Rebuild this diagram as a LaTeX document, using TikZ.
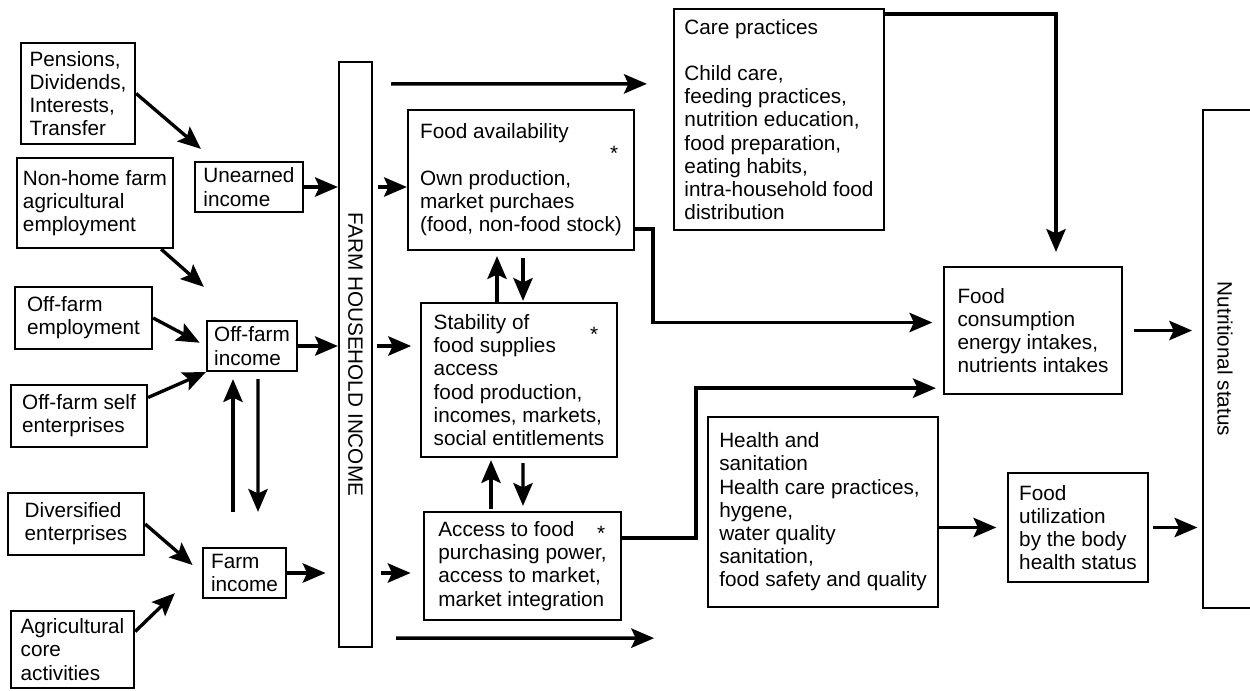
\documentclass[tikz,border=0pt]{standalone}
\usepackage{fontspec}
\setmainfont{Liberation Sans}
\usetikzlibrary{arrows.meta,calc,positioning}
\newcommand{\boxfont}{\fontsize{11.8pt}{13.2pt}\selectfont}
\tikzstyle{block} = [rectangle, draw=black, line width=1.3pt, inner sep=0pt, align=left, font=\boxfont]
\tikzstyle{arrow} = [line width=1.9pt, -{Stealth[length=13pt, width=11pt, inset=2.5pt]}]
\tikzstyle{vtext} = [rotate=-90, font=\boxfont, inner sep=0pt]
\tikzstyle{star} = [font=\boxfont, inner sep=0pt]

\begin{document}
\begin{tikzpicture}[x=0.02cm, y=-0.02cm]
\useasboundingbox (0,0) rectangle (1250,690);

% income sources
\node (pens) [block, minimum width=2.28cm, minimum height=2.02cm] at (78,93.5) {Pensions,\\Dividends,\\Interests,\\Transfer};
\node (unearned) [block, minimum width=2.16cm, minimum height=1cm] at (249,187) {Unearned\\income};
\node (nonhome) [block, minimum width=3.12cm, minimum height=1.8cm] at (95,203) {Non-home farm\\agricultural\\employment};
\node (offemp) [block, minimum width=2.74cm, minimum height=1.24cm] at (83.5,318) {Off-farm\\employment};
\node (offinc) [block, minimum width=1.8cm, minimum height=1cm] at (252,346) {Off-farm\\income};
\node (offself) [block, minimum width=2.72cm, minimum height=1.24cm] at (79,416) {Off-farm self\\enterprises};
\node (div) [block, minimum width=2.72cm, minimum height=1.24cm] at (76,524) {Diversified\\enterprises};
\node (farminc) [block, minimum width=1.66cm, minimum height=1cm] at (244.5,573) {Farm\\income};
\node (agri) [block, minimum width=2.46cm, minimum height=1.54cm] at (72.5,649.5) {Agricultural\\core\\activities};

% household income
\node (fhi) [block, minimum width=0.66cm, minimum height=11.7cm] at (355.5,354.5) {};
\node (fhitxt) [vtext] at (fhi.center) {FARM HOUSEHOLD INCOME};

% food security
\node (care) [block, minimum width=4.2cm, minimum height=4.42cm] at (779,119.5) {Care practices\\[13.2pt]Child care,\\feeding practices,\\nutrition education,\\food preparation,\\eating habits,\\intra-household food\\distribution};
\node (favail) [block, minimum width=4.52cm, minimum height=2.8cm] at (521,180) {Food availability\\[13.2pt]Own production,\\market purchaes\\(food, non-food stock)};
\node (stab) [block, minimum width=3.92cm, minimum height=3.08cm] at (519,380) {Stability of\\food supplies\\access\\food production,\\incomes, markets,\\social entitlements};
\node (access) [block, minimum width=3.94cm, minimum height=2.16cm] at (522.5,566) {Access to food\\purchasing power,\\access to market,\\market integration};
\node (star1) [star] at ($(favail.north east)+(-21,44)$) {*};
\node (star2) [star] at ($(stab.north east)+(-24,32)$) {*};
\node (star3) [star] at ($(access.north east)+(-21,22)$) {*};
\node (health) [block, minimum width=4.6cm, minimum height=3.8cm] at (823,512) {Health and\\sanitation\\Health care practices,\\hygene,\\water quality\\sanitation,\\food safety and quality};
\node (cons) [block, minimum width=3.56cm, minimum height=2.54cm] at (1033,330.5) {Food\\consumption\\energy intakes,\\nutrients intakes};
\node (util) [block, minimum width=2.8cm, minimum height=2.18cm] at (1078,527.5) {Food\\utilization\\by the body\\health status};

% nutritional status (open to the right)
\node (nutr) [minimum width=0.94cm, minimum height=9.96cm, inner sep=0pt] at (1226.5,359) {};
\draw [line width=1.3pt] (nutr.north east) -- (nutr.north west) -- (nutr.south west) -- (nutr.south east);
\node (nutrtxt) [vtext] at ($(nutr.center)+(-1.5,0)$) {Nutritional status};

% sources to incomes
\draw [arrow] (pens.east) -- ($(unearned.north west)+(7,-12)$);
\draw [arrow] ($(nonhome.south east)+(-13,0)$) -- ($(offinc.north west)+(-2,-33)$);
\draw [arrow, shorten >=4pt] (offemp.east) -- (offinc.west);
\draw [arrow] (offself.15) -- (offinc.south west);
\draw [arrow, shorten >=7pt] (div.east) -- (farminc.west);
\draw [arrow] (agri.16) -- ($(farminc.south west)+(-27,-6)$);
\draw [arrow] ($(farminc.north)+(-11.5,-35)$) -- ($(offinc.south)+(-19,7)$);
\draw [arrow] ($(offinc.south)+(6,7)$) -- ($(farminc.north)+(13.5,-35)$);

% incomes to household income
\draw [arrow] (unearned.east) -- (unearned.east -| fhi.west);
\draw [arrow] (offinc.east) -- (offinc.east -| fhi.west);
\draw [arrow, shorten >=7pt] (farminc.east) -- (farminc.east -| fhi.west);

% household income to food security
\draw [arrow] ($(fhi.north east)+(18,23)$) -- ($(care.north west)+(-26,76)$);
\draw [arrow, shorten <=3pt] (fhi.east |- unearned.east) -- (favail.west |- unearned.east);
\draw [arrow, shorten <=2pt, shorten >=5pt] (fhi.east |- offinc.east) -- (stab.west |- offinc.east);
\draw [arrow, shorten <=4.5pt, shorten >=7pt] (fhi.east |- farminc.east) -- (access.west |- farminc.east);
\draw [arrow] ($(fhi.south east)+(23,-10)$) -- ($(access.south east)+(32,17)$);

\draw [arrow] ($(stab.north)+(-22,0)$) -- ($(favail.south)+(-24,5)$);
\draw [arrow] ($(favail.south)+(2,7)$) -- ($(stab.north)+(4,-1)$);
\draw [arrow] ($(access.north)+(-31.5,-2)$) -- ($(stab.south)+(-28,2)$);
\draw [arrow] ($(stab.south)+(4,5)$) -- ($(access.north)+(0.5,-5)$);

% to consumption and utilization
\draw [arrow, shorten >=6pt] ($(favail.south east)+(0,-22)$) -- ++(18,0) |- ($(cons.west)+(0,-8)$);
\draw [arrow, shorten >=4pt] ($(access.east)+(0,-28)$) -- ++(74,0) |- ($(cons.south west)+(0,-7)$);
\draw [arrow] ($(care.north east)+(0,6)$) -| ($(cons.north)+(23,-14)$);
\draw [arrow, shorten >=6pt] (health.east |- util.west) -- (util.west);
\draw [arrow, shorten <=6pt, shorten >=6pt] (cons.east) -- (cons.east -| nutr.west);
\draw [arrow, shorten <=2pt, shorten >=3pt] (util.east) -- (util.east -| nutr.west);
\end{tikzpicture}
\end{document}
